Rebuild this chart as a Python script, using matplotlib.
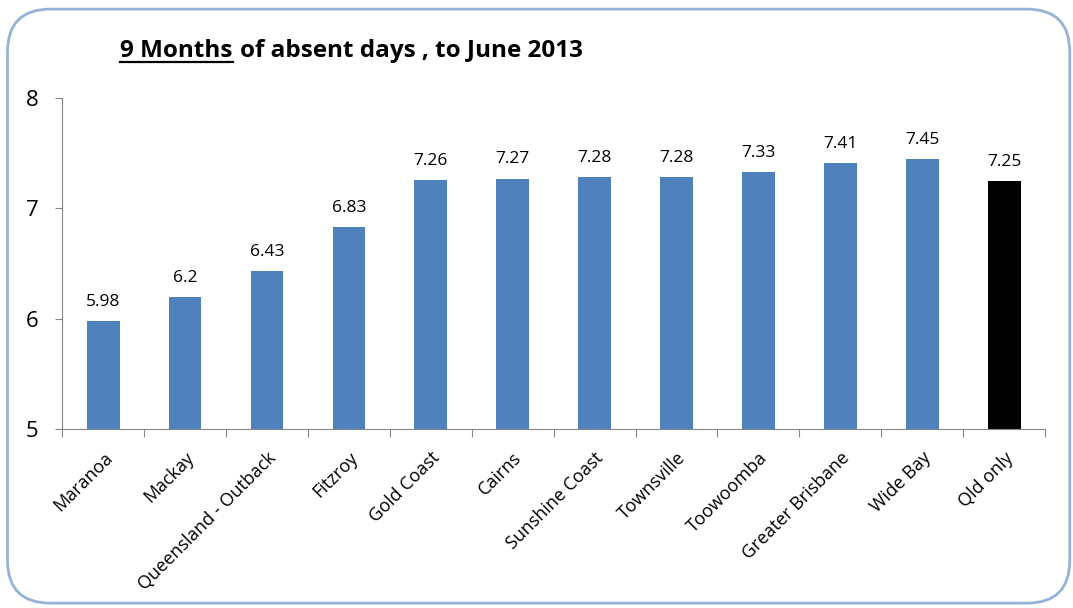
import matplotlib.pyplot as plt
from matplotlib.patches import FancyBboxPatch
from matplotlib.lines import Line2D

regions = ["Maranoa", "Mackay", "Queensland - Outback", "Fitzroy", "Gold Coast",
           "Cairns", "Sunshine Coast", "Townsville", "Toowoomba", "Greater Brisbane",
           "Wide Bay", "Qld only"]
absent_days = [5.98, 6.2, 6.43, 6.83, 7.26, 7.27, 7.28, 7.28, 7.33, 7.41, 7.45, 7.25]
value_labels = ["5.98", "6.2", "6.43", "6.83", "7.26", "7.27", "7.28", "7.28", "7.33",
                "7.41", "7.45", "7.25"]

plt.rcParams["font.family"] = ["Open Sans", "DejaVu Sans"]

fig = plt.figure(figsize=(10.73, 6.08), dpi=100)
ax = fig.add_axes([0.058, 0.294, 0.916, 0.545])

colors = ["#4F81BD"] * (len(regions) - 1) + ["#000000"]
x = range(len(regions))
ax.bar(x, [v - 5 for v in absent_days], bottom=5, width=0.4, color=colors)
for i, (v, lab) in enumerate(zip(absent_days, value_labels)):
    ax.text(i, v + 0.1, lab, ha="center", va="bottom", fontsize=12.5)

ax.set_ylim(5, 8)
ax.set_xlim(-0.5, len(regions) - 0.5)
ax.set_yticks([5, 6, 7, 8])
ax.tick_params(axis="y", labelsize=16, length=5, color="#868686", pad=12)
ax.set_xticks([i - 0.5 for i in range(len(regions) + 1)], minor=False)
ax.set_xticklabels([])
ax.set_xticks(list(x), minor=True)
ax.set_xticklabels(regions, minor=True, rotation=45, ha="right", rotation_mode="anchor",
                   fontsize=13)
ax.tick_params(axis="x", which="major", length=6, color="#868686")
ax.tick_params(axis="x", which="minor", length=0, pad=14)
for s in ["top", "right"]:
    ax.spines[s].set_visible(False)
for s in ["left", "bottom"]:
    ax.spines[s].set_color("#868686")

# title with underlined first part
t1 = fig.text(0.112, 0.907, "9 Months", fontsize=17.5, fontweight="bold", va="baseline")
fig.canvas.draw()
bb = t1.get_window_extent().transformed(fig.transFigure.inverted())
fig.add_artist(Line2D([bb.x0, bb.x1], [0.898, 0.898], color="black", lw=1.6,
                      transform=fig.transFigure))
fig.text(bb.x1 + 0.007, 0.907, "of absent days , to June 2013", fontsize=17.5,
         fontweight="bold", va="baseline")

border = FancyBboxPatch((0.007, 0.008), 0.990, 0.977, boxstyle="round,pad=0,rounding_size=0.04",
                        transform=fig.transFigure, fill=False, edgecolor="#95B3D7", lw=2,
                        mutation_aspect=1.76)
fig.add_artist(border)

fig.savefig("out.png", dpi=100)
